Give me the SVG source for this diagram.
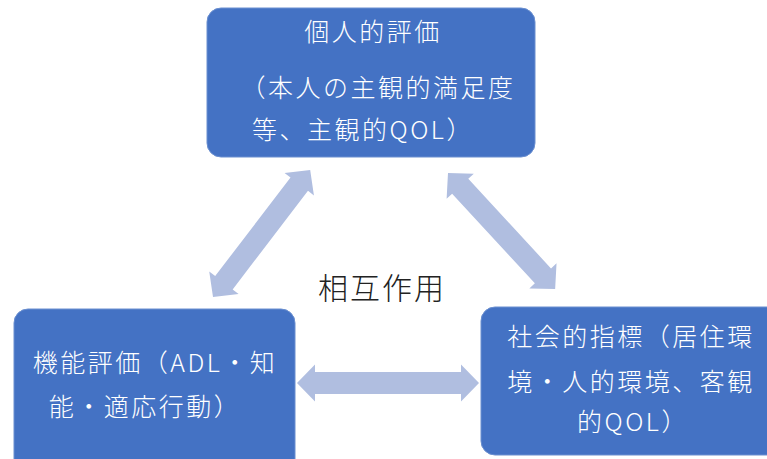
<svg xmlns="http://www.w3.org/2000/svg" width="767" height="459" viewBox="0 0 767 459">
<style>
.box{fill:#4472C4;stroke:#6a8fd0;stroke-width:1}
.arr{fill:#B0BEE0}
.t{font-family:"Noto Sans CJK JP","Noto Sans",sans-serif;font-weight:300;font-size:25px;fill:#ffffff;text-anchor:middle;letter-spacing:2.5px}
.c{font-family:"Noto Sans CJK JP","Noto Sans",sans-serif;font-weight:300;font-size:30px;fill:#222222;text-anchor:middle;letter-spacing:2px}
</style>
<rect width="767" height="459" fill="#ffffff"/>
<g id="connectors">
<polygon class="arr" points="0,0 18,-18.5 18,-11 164,-11 164,-18.5 182,0 164,18.5 164,11 18,11 18,18.5" transform="translate(297,383)"/>
<polygon class="arr" points="0,0 18,-18.5 18,-11 142,-11 142,-18.5 160,0 142,18.5 142,11 18,11 18,18.5" transform="translate(213,297) rotate(-52.6)"/>
<polygon class="arr" points="0,0 18,-18.5 18,-11 140,-11 140,-18.5 158,0 140,18.5 140,11 18,11 18,18.5" transform="translate(448,173) rotate(47.3)"/>
</g>
<g id="node-personal">
<rect class="box" x="207" y="8" width="328" height="149" rx="14"/>
<text class="t" x="373" y="41">個人的評価</text>
<text class="t" x="378" y="97">（本人の主観的満足度</text>
<text class="t" x="363" y="139">等、主観的QOL）</text>
</g>
<g id="node-function">
<rect class="box" x="14" y="309" width="281" height="165" rx="14"/>
<text class="t" x="155" y="372">機能評価（ADL・知</text>
<text class="t" x="145" y="416">能・適応行動）</text>
</g>
<g id="node-social">
<rect class="box" x="481" y="307" width="300" height="148" rx="14"/>
<text class="t" x="631" y="346">社会的指標（居住環</text>
<text class="t" x="631" y="391">境・人的環境、客観</text>
<text class="t" x="633" y="431">的QOL）</text>
</g>
<g id="label">
<text class="c" x="382" y="299">相互作用</text>
</g>
</svg>
